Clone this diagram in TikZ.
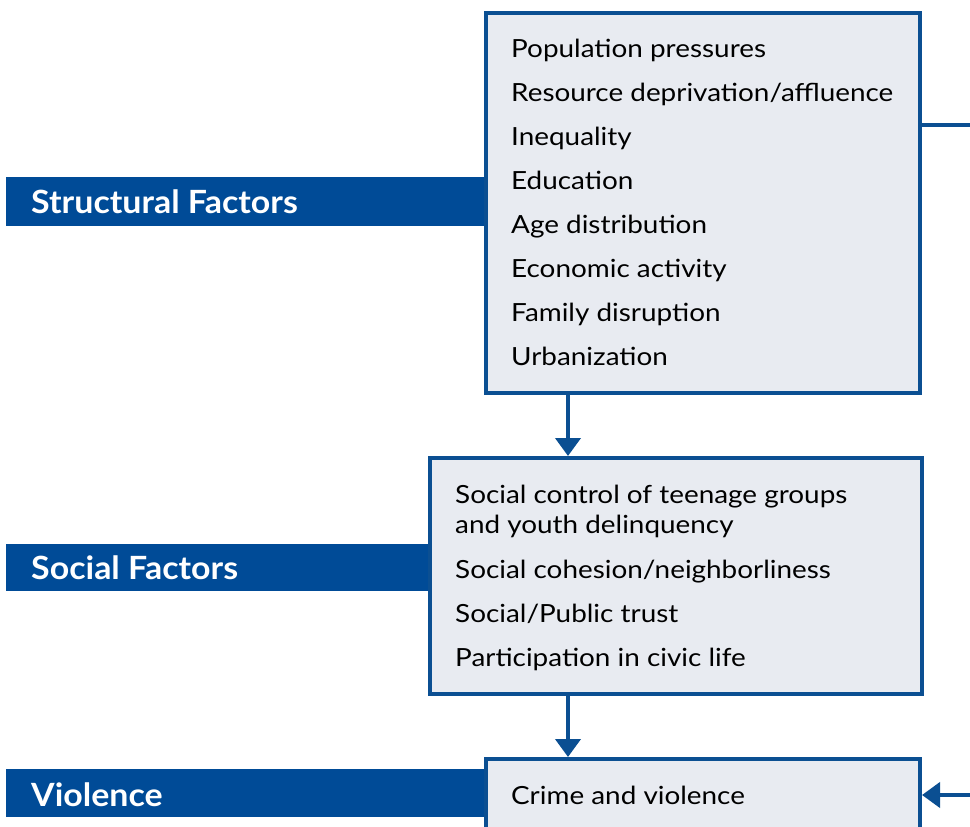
\documentclass[tikz,border=0pt]{standalone}
\usepackage{fontspec}
\setmainfont{Lato}
\newfontfamily\itemfont[FakeStretch=1.115]{Lato}
\newfontfamily\barfont[FakeStretch=1.06]{Lato}
\usetikzlibrary{arrows.meta}
\definecolor{barblue}{HTML}{004B97}
\definecolor{lineblue}{HTML}{0B4F92}
\definecolor{boxfill}{HTML}{E8EBF1}
\tikzset{
  bar/.style={fill=barblue,draw=none,inner sep=0pt,anchor=north west},
  bartext/.style={text=white,font=\barfont\fontsize{32}{36}\selectfont\bfseries,anchor=base west,inner sep=0pt},
  factorbox/.style={draw=lineblue,line width=4pt,fill=boxfill,anchor=north west,inner sep=0pt},
  item/.style={anchor=base west,inner sep=0pt,font=\itemfont\fontsize{25}{30}\selectfont,text=black},
  conn/.style={draw=lineblue,line width=4pt},
  arr/.style={conn,-{Triangle[width=25pt,length=18pt]}},
}
\begin{document}
\begin{tikzpicture}[x=1pt,y=-1pt]
\useasboundingbox (0,0) rectangle (970,827);
\clip (0,0) rectangle (970,827);
% bars
\node[bar,minimum width=478pt,minimum height=49pt] (bar1) at (6,177) {};
\node[bar,minimum width=422pt,minimum height=47pt] (bar2) at (6,544) {};
\node[bar,minimum width=478pt,minimum height=48pt] (bar3) at (6,769) {};
\node[bartext] (t1) at (31,213) {Structural Factors};
\node[bartext] (t2) at (31,579) {Social Factors};
\node[bartext] (t3) at (31,806) {Violence};
% boxes
\node[factorbox,minimum width=434pt,minimum height=380pt] (box1) at (484,11) {};
\node[factorbox,minimum width=492pt,minimum height=236pt] (box2) at (428,456) {};
\node[factorbox,minimum width=434pt,minimum height=100pt] (box3) at (484,757) {};
% items box1
\node[item] (a1) at (511,57) {Population pressures};
\node[item] (a2) at (511,101) {Resource deprivation/affluence};
\node[item] (a3) at (511,145) {Inequality};
\node[item] (a4) at (511,189) {Education};
\node[item] (a5) at (511,233) {Age distribution};
\node[item] (a6) at (511,277) {Economic activity};
\node[item] (a7) at (511,321) {Family disruption};
\node[item] (a8) at (511,365) {Urbanization};
% items box2
\node[item] (b1) at (455,503) {Social control of teenage groups};
\node[item] (b1b) at (455,533) {and youth delinquency};
\node[item] (b2) at (455,578) {Social cohesion/neighborliness};
\node[item] (b3) at (455,622) {Social/Public trust};
\node[item] (b4) at (455,666) {Participation in civic life};
% items box3
\node[item] (c1) at (511,804) {Crime and violence};
% connectors
\coordinate (d1) at (568,391);
\coordinate (d2) at (568,692);
\draw[arr] (d1) -- (d1 |- box2.north);
\draw[arr] (d2) -- (d2 |- box3.north);
\coordinate (r1) at (971,125);
\coordinate (r3) at (971,795);
\draw[conn] (box1.east |- r1) -- (r1);
\draw[arr] (r3) -- (box3.east |- r3);
\end{tikzpicture}
\end{document}
